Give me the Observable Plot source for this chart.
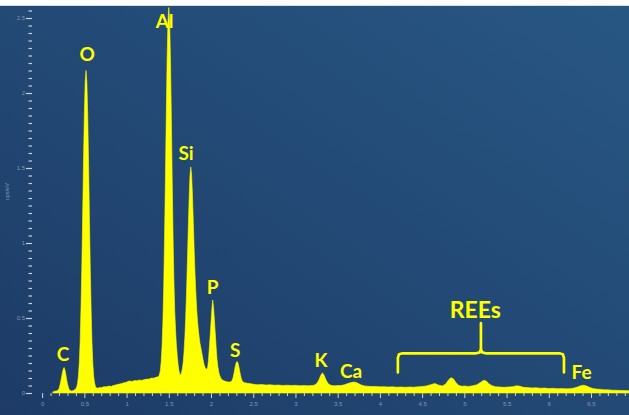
<!DOCTYPE html>
<html><head><meta charset="utf-8">
<script src="https://cdn.jsdelivr.net/npm/d3@7"></script>
<script src="https://cdn.jsdelivr.net/npm/@observablehq/plot@0.6"></script>
<style>
html,body{margin:0;padding:0;background:#fff;}
#chart svg{display:block;}
</style></head><body><div id="chart"></div>
<script>
// EDS spectrum (energy keV, counts cps/eV)
const spectrumLow = [[0.13,0.008],[0.15,0.012],[0.17,0.014],[0.19,0.02],[0.20,0.03],[0.21,0.05],[0.22,0.075],[0.23,0.105],[0.24,0.135],[0.25,0.16],[0.26,0.17],[0.27,0.155],[0.28,0.125],[0.29,0.09],[0.30,0.06],[0.31,0.04],[0.32,0.025],[0.33,0.016],[0.35,0.013],[0.37,0.016],[0.39,0.024],[0.40,0.03],[0.41,0.04],[0.42,0.065],[0.43,0.115],[0.44,0.2],[0.45,0.34],[0.46,0.56],[0.47,0.84],[0.48,1.18],[0.49,1.54],[0.50,1.86],[0.51,2.08],[0.52,2.15],[0.53,2.07],[0.54,1.85],[0.55,1.53],[0.56,1.17],[0.57,0.84],[0.58,0.56],[0.59,0.34],[0.60,0.2],[0.61,0.115],[0.62,0.07],[0.63,0.045],[0.64,0.035],[0.66,0.032],[0.68,0.036],[0.70,0.035],[0.72,0.04],[0.74,0.042],[0.76,0.041],[0.78,0.045],[0.80,0.046],[0.82,0.044],[0.84,0.05],[0.86,0.052],[0.88,0.055],[0.90,0.058],[0.92,0.06],[0.94,0.064],[0.96,0.066],[0.98,0.07],[1.00,0.072],[1.02,0.078],[1.04,0.08],[1.06,0.077],[1.08,0.08],[1.10,0.083],[1.12,0.081],[1.14,0.085],[1.16,0.086],[1.18,0.084],[1.20,0.088],[1.22,0.09],[1.24,0.093],[1.26,0.092],[1.28,0.096],[1.30,0.1],[1.32,0.098],[1.34,0.103],[1.36,0.106]];
const spectrumMid = [[1.38,0.11],[1.39,0.125],[1.40,0.15],[1.41,0.21],[1.42,0.31],[1.43,0.47],[1.44,0.71],[1.45,1.04],[1.46,1.43],[1.47,1.85],[1.48,2.22],[1.49,2.48],[1.50,2.57],[1.51,2.48],[1.52,2.22],[1.53,1.85],[1.54,1.43],[1.55,1.06],[1.56,0.76],[1.57,0.55],[1.58,0.42],[1.59,0.32],[1.60,0.25],[1.61,0.19],[1.62,0.15],[1.63,0.125],[1.64,0.12],[1.65,0.135],[1.66,0.16],[1.67,0.2],[1.68,0.27],[1.69,0.37],[1.70,0.5],[1.71,0.67],[1.72,0.87],[1.73,1.08],[1.74,1.28],[1.75,1.44],[1.76,1.507],[1.77,1.46],[1.78,1.32],[1.79,1.14],[1.80,0.96],[1.81,0.8],[1.82,0.67],[1.83,0.56],[1.84,0.48],[1.85,0.42],[1.86,0.37],[1.87,0.33],[1.88,0.3],[1.89,0.27],[1.90,0.24],[1.91,0.21],[1.92,0.185],[1.93,0.17],[1.94,0.16],[1.95,0.158],[1.96,0.17],[1.97,0.22],[1.98,0.3],[1.99,0.38],[2.00,0.47],[2.01,0.56],[2.02,0.62],[2.03,0.57],[2.04,0.49],[2.05,0.4],[2.06,0.31],[2.07,0.23],[2.08,0.18],[2.09,0.145],[2.10,0.12],[2.12,0.095],[2.14,0.085],[2.16,0.08],[2.18,0.076],[2.20,0.074],[2.22,0.073],[2.24,0.076],[2.25,0.085],[2.26,0.1],[2.27,0.125],[2.28,0.155],[2.29,0.185],[2.30,0.205],[2.31,0.21],[2.32,0.2],[2.33,0.175],[2.34,0.145],[2.35,0.115],[2.36,0.095],[2.37,0.08],[2.38,0.073],[2.40,0.068],[2.43,0.065],[2.46,0.063]];
const spectrumHigh = [[2.50,0.058],[2.55,0.055],[2.60,0.057],[2.65,0.053],[2.70,0.055],[2.75,0.052],[2.80,0.053],[2.85,0.05],[2.90,0.052],[2.95,0.05],[3.00,0.051],[3.05,0.049],[3.10,0.05],[3.15,0.048],[3.20,0.05],[3.22,0.052],[3.24,0.058],[3.26,0.07],[3.28,0.09],[3.30,0.118],[3.31,0.128],[3.32,0.133],[3.33,0.128],[3.34,0.117],[3.36,0.09],[3.38,0.068],[3.40,0.056],[3.43,0.05],[3.46,0.048],[3.50,0.05],[3.54,0.05],[3.58,0.055],[3.62,0.063],[3.66,0.07],[3.69,0.073],[3.72,0.07],[3.75,0.062],[3.78,0.053],[3.82,0.047],[3.86,0.045],[3.90,0.043],[3.95,0.044],[4.00,0.041],[4.05,0.042],[4.10,0.04],[4.15,0.041],[4.20,0.039],[4.25,0.04],[4.30,0.038],[4.35,0.04],[4.40,0.039],[4.45,0.041],[4.50,0.043],[4.55,0.047],[4.60,0.055],[4.65,0.063],[4.70,0.052],[4.74,0.047],[4.78,0.06],[4.81,0.085],[4.84,0.102],[4.87,0.095],[4.90,0.07],[4.93,0.052],[4.97,0.045],[5.00,0.047],[5.05,0.044],[5.10,0.048],[5.15,0.055],[5.19,0.07],[5.23,0.085],[5.26,0.08],[5.29,0.062],[5.33,0.048],[5.37,0.042],[5.42,0.04],[5.47,0.038],[5.52,0.04],[5.57,0.042],[5.62,0.048],[5.65,0.046],[5.70,0.038],[5.75,0.036],[5.80,0.034],[5.85,0.035],[5.90,0.032],[5.95,0.033],[6.00,0.03],[6.05,0.031],[6.10,0.029],[6.15,0.03],[6.20,0.028],[6.25,0.029],[6.30,0.033],[6.34,0.04],[6.38,0.049],[6.41,0.052],[6.44,0.048],[6.48,0.038],[6.52,0.03],[6.56,0.026],[6.60,0.025],[6.65,0.022],[6.70,0.021],[6.75,0.019],[6.80,0.018],[6.85,0.017],[6.90,0.016],[6.95,0.015]];

// element labels
const elementNames = ["C","O","Al","Si","P","S","K","Ca","Fe"];
const elementEnergy = [0.243,0.527,1.445,1.699,2.013,2.282,3.298,3.653,6.382];
const elementLevel = [0.258,2.258,2.478,1.598,0.705,0.285,0.218,0.145,0.135];

// REE group annotation
const groupLabel = "REEs";
const groupLabelPos = [5.124, 0.551];
const groupRange = [4.207, 6.174];
const groupLevels = [0.14, 0.268, 0.469]; // leg bottom, brace line, stem top

// axes
const xMajorTicks = [0,0.5,1,1.5,2,2.5,3,3.5,4,4.5,5,5.5,6,6.5];
const yMajorTicks = [0,0.5,1,1.5,2,2.5];
const yAxisTitle = "cps/eV";

const spectrum = [...spectrumLow, ...spectrumMid, ...spectrumHigh].map(([e, c]) => ({e, c}));
const xMinorTicks = d3.range(1, 70).map(i => i / 10).filter(v => Math.abs(v * 2 - Math.round(v * 2)) > 1e-6);
const yMinorTicks = d3.range(1, 52).map(i => i / 20).filter(v => Math.abs(v * 2 - Math.round(v * 2)) > 1e-6);

const labels = elementNames.map((t, i) => ({t, e: elementEnergy[i], c: elementLevel[i]}));

const [b0, b1] = groupRange;
const mid = (b0 + b1) / 2;
const [yb, yh, yt] = groupLevels;
const r = 0.055, rc = 0.03;
const brace = [
  [b0, yb], [b0, yh - rc], [b0 + r * 0.25, yh - rc * 0.2], [b0 + r, yh],
  [mid - r, yh], [mid - r * 0.25, yh + rc * 0.2], [mid, yh + rc], [mid, yt],
  [mid, yh + rc], [mid + r * 0.25, yh + rc * 0.2], [mid + r, yh],
  [b1 - r, yh], [b1 - r * 0.25, yh - rc * 0.2], [b1, yh - rc], [b1, yb]
].map(([e, c]) => ({e, c}));

const tickStroke = "#c9d2dc";
const tickText = "#8796ab";
const yellow = "#ffff00";

const chart = Plot.plot({
  width: 629,
  height: 415,
  marginLeft: 32,
  marginRight: 0,
  marginTop: 6,
  marginBottom: 22,
  x: {domain: [-0.12, 6.95]},
  y: {domain: [0, 2.58]},
  style: {
    background: "linear-gradient(#ffffff 0px, #ffffff 5px, #d8dde3 5px, #d8dde3 6px, transparent 6px), linear-gradient(to top right, #1d3b66, #285784)",
    fontFamily: "'Liberation Sans', Arial, sans-serif"
  },
  marks: [
    Plot.areaY(spectrum, {x: "e", y: "c", fill: yellow, stroke: yellow, strokeWidth: 0.6, curve: "linear"}),
    Plot.axisY(yMajorTicks, {anchor: "left", tickSize: 6, tickPadding: 1.5, stroke: tickStroke, strokeWidth: 1.2, fill: tickText, fontSize: 6, tickFormat: d => String(d), label: null}),
    Plot.axisY(yMinorTicks, {anchor: "left", tickSize: 3.5, stroke: tickStroke, strokeWidth: 1.2, tickFormat: () => "", label: null}),
    Plot.axisX(xMajorTicks, {anchor: "bottom", tickSize: 5, tickPadding: 3, stroke: tickStroke, strokeWidth: 1, fill: tickText, fontSize: 6, tickFormat: d => String(d), label: null}),
    Plot.axisX(xMinorTicks, {anchor: "bottom", tickSize: 3, stroke: tickStroke, strokeWidth: 1, tickFormat: () => "", label: null}),
    Plot.text([yAxisTitle], {frameAnchor: "left", dx: -25, rotate: -90, fontSize: 5.5, fill: tickText, text: d => d}),
    Plot.line(brace, {x: "e", y: "c", stroke: yellow, strokeWidth: 2.7, strokeLinejoin: "round", curve: "linear"}),
    Plot.text(labels, {x: "e", y: "c", text: "t", fill: yellow, fontSize: 19, fontWeight: "bold", fontFamily: "Lato, 'Open Sans', sans-serif"}),
    Plot.text([groupLabel], {x: () => groupLabelPos[0], y: () => groupLabelPos[1], text: d => d, fill: yellow, fontSize: 23, fontWeight: "bold", fontFamily: "Lato, 'Open Sans', sans-serif"})
  ]
});
document.getElementById("chart").append(chart);
</script>
</body></html>
